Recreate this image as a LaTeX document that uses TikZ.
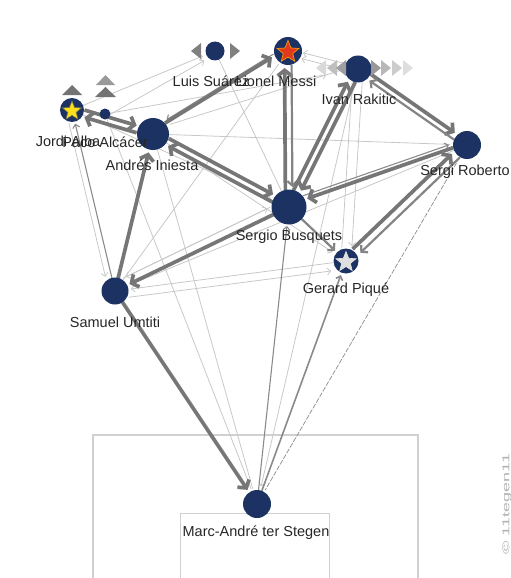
\documentclass[tikz,border=0pt]{standalone}
\usepackage{fontspec}
\setmainfont{Liberation Sans}
\usetikzlibrary{arrows.meta,calc,shapes.geometric,backgrounds}
\definecolor{navy}{HTML}{1C3263}
\definecolor{ctk}{HTML}{767676}
\definecolor{cmd}{HTML}{848484}
\definecolor{ctn}{HTML}{8A8A8A}
\definecolor{clt}{HTML}{C8C8C8}
\definecolor{cbox}{HTML}{D0D0D0}
\newcommand\cn[6][]{\draw[#1,shorten <=#5pt,shorten >=#6pt] ($(#2)!#4pt!90:(#3)$) -- ($(#3)!#4pt!-90:(#2)$);}
\begin{document}
\begin{tikzpicture}[x=1pt,y=-1pt,
  font=\fontsize{14.5}{17}\selectfont,
  pl/.style={circle,fill=navy,inner sep=0pt},
  lab/.style={inner sep=0pt,text=black!85},
  starstyle/.style={star,star points=5,star point ratio=2.3,inner sep=0pt,line width=0.6pt},
  tk/.style={line width=3.7pt,draw=ctk,-{Straight Barb[length=5.5pt,width=14pt]}},
  md/.style={line width=2.2pt,draw=cmd,-{Straight Barb[length=4.5pt,width=10pt]}},
  tn/.style={line width=1.1pt,draw=ctn,-{Straight Barb[length=3.5pt,width=7pt]}},
  lt/.style={line width=0.8pt,draw=clt,-{Straight Barb[length=3.5pt,width=7pt]}},
  ln/.style={line width=0.8pt,draw=clt}]
\useasboundingbox (0,0) rectangle (511,578);

% players
\node[pl,minimum size=24pt] (alba) at (72,110) {};
\node[starstyle,minimum size=20pt,fill=yellow!80!orange!90,draw=yellow!40!black] (albaS) at (72,111) {};
\node[pl,minimum size=11pt] (paco) at (105,114) {};
\node[pl,minimum size=32pt] (iniesta) at (153,134) {};
\node[pl,minimum size=19pt] (suarez) at (215,51) {};
\node[pl,minimum size=28pt] (messi) at (288,51) {};
\node[starstyle,minimum size=23pt,fill=red!55!brown,draw=orange!70!yellow] (messiS) at (288,52) {};
\node[pl,minimum size=27pt] (rak) at (358,69) {};
\node[pl,minimum size=28pt] (sergi) at (467,145) {};
\node[pl,minimum size=35pt] (busq) at (289,207) {};
\node[pl,minimum size=25pt] (pique) at (346,261) {};
\node[starstyle,minimum size=21pt,fill=gray!25,draw=white!80!gray] (piqueS) at (346,262) {};
\node[pl,minimum size=27pt] (umtiti) at (115,291) {};
\node[pl,minimum size=28pt] (stegen) at (257,504) {};

% labels
\node[lab] (albaL) at (68,141) {Jordi Alba};
\node[lab] (pacoL) at (105,142) {Paco Alcácer};
\node[lab] (iniestaL) at (152,165) {Andrés Iniesta};
\node[lab] (suarezL) at (211,81) {Luis Suárez};
\node[lab] (messiL) at (276,81) {Lionel Messi};
\node[lab] (rakL) at (359,99) {Ivan Rakitic};
\node[lab] (sergiL) at (465,172) {Sergi Roberto};
\node[lab] (busqL) at (289,237) {Sergio Busquets};
\node[lab] (piqueL) at (346,290) {Gerard Piqué};
\node[lab] (umtitiL) at (115,322) {Samuel Umtiti};
\node[lab] (stegenL) at (256,533) {Marc-André ter Stegen};

% watermark
\node[rotate=90,text=black!30,inner sep=0pt] (wm) at (507,504) {\fontsize{10}{12}\selectfont\scalebox{1.8}[1]{© 11tegen11}};

% icons
\fill[black!55] (62,95) -- (72,85) -- (82,95) -- cycle;
\fill[black!40] (96,85) -- (105.5,75) -- (115,85) -- cycle;
\fill[black!55] (95,97) -- (105.5,87) -- (116,97) -- cycle;
\fill[black!50] (191,51) -- (201,43) -- (201,59) -- cycle;
\fill[black!50] (230,43) -- (240,51) -- (230,59) -- cycle;
\fill[black!15] (316,68) -- (326,60) -- (326,76) -- cycle;
\fill[black!25] (327,68) -- (337,60) -- (337,76) -- cycle;
\fill[black!38] (336,68) -- (346,60) -- (346,76) -- cycle;
\fill[black!40] (371,60) -- (381,68) -- (371,76) -- cycle;
\fill[black!28] (381,60) -- (391,68) -- (381,76) -- cycle;
\fill[black!20] (392,60) -- (402,68) -- (392,76) -- cycle;
\fill[black!13] (403,60) -- (413,68) -- (403,76) -- cycle;

\begin{pgfonlayer}{background}
% penalty boxes
\draw[cbox,line width=1.2pt] (93,590) |- (418,435) -- (418,590);
\draw[cbox,line width=1pt] (180,590) |- (329,513) -- (329,590);

% light passes
\cn[lt]{alba}{suarez}{0}{12}{13}
\cn[lt]{paco}{suarez}{-3}{5}{14}
\cn[lt]{paco}{rak}{0}{5}{32}
\cn[ln]{paco}{stegen}{0}{5}{16}
\cn[ln]{iniesta}{stegen}{0}{16}{16}
\cn[lt]{rak}{stegen}{0}{13}{18}
\cn[ln,dash pattern=on 5pt off 1.5pt,draw=black!45,line width=0.7pt]{sergi}{stegen}{0}{14}{16}
\cn[lt]{rak}{messi}{4}{13}{15}
\cn[lt]{rak}{messi}{-2}{13}{15}
\cn[lt]{rak}{pique}{5}{13}{15}
\cn[ln]{pique}{rak}{5}{13}{14}
\cn[lt]{pique}{umtiti}{0}{13}{16}
\cn[lt]{busq}{umtiti}{-8}{17}{16}
\cn[lt]{umtiti}{pique}{-8}{13}{16}
\cn[lt]{umtiti}{busq}{8}{13}{20}
\cn[ln]{iniesta}{sergi}{0}{16}{17}
\cn[lt]{alba}{busq}{0}{12}{20}
\cn[ln]{rak}{iniesta}{-4}{13}{19}
\cn[lt]{sergi}{umtiti}{0}{14}{18}
\cn[ln]{umtiti}{messi}{0}{13}{16}
\cn[lt]{iniesta}{pique}{0}{16}{16}
\cn[ln]{suarez}{busq}{0}{10}{18}
\cn[lt]{alba}{umtiti}{-6}{12}{16}

% darker thin passes
\cn[tn]{umtiti}{alba}{0}{13}{14}
\cn[tn]{messi}{iniesta}{-5}{14}{19}
\cn[tn]{busq}{sergi}{6}{17}{17}
\cn[tn]{stegen}{busq}{0}{14}{19}
\cn[tn,line width=1.6pt]{stegen}{pique}{0}{14}{15}

% medium / thick passes
\cn[tk]{alba}{iniesta}{3.5}{12}{18}
\cn[tk]{iniesta}{alba}{3.5}{16}{14}
\cn[tk]{iniesta}{busq}{3.5}{16}{20}
\cn[tk]{busq}{iniesta}{3.5}{17}{19}
\cn[tk]{iniesta}{messi}{3}{16}{17}
\cn[tk]{busq}{messi}{3.5}{17}{17}
\cn[md]{messi}{busq}{3.5}{14}{20}
\cn[tk]{busq}{rak}{3.5}{17}{16}
\cn[tk]{rak}{busq}{3.5}{13}{20}
\cn[tk]{rak}{sergi}{3}{13}{17}
\cn[md]{sergi}{rak}{3}{14}{16}
\cn[tk]{sergi}{busq}{-2}{14}{20}
\cn[tk]{busq}{umtiti}{0}{17}{16}
\cn[tk]{umtiti}{iniesta}{0}{13}{19}
\cn[tk]{umtiti}{stegen}{0}{13}{17}
\cn[tk]{pique}{sergi}{4}{13}{17}
\cn[md]{sergi}{pique}{4}{14}{16}
\cn[md]{busq}{pique}{0}{17}{15}
\end{pgfonlayer}
\end{tikzpicture}
\end{document}
